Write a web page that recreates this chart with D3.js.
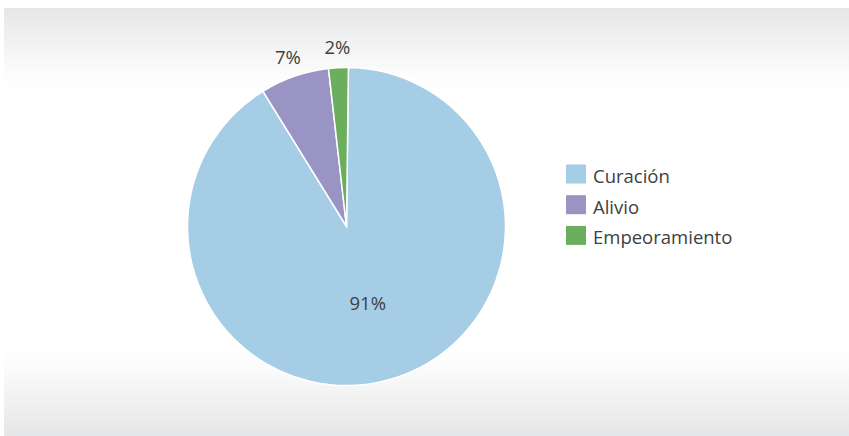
<!DOCTYPE html>
<html>
<head>
<meta charset="utf-8">
<script src="https://cdn.jsdelivr.net/npm/d3@7"></script>
<style>
  body { margin: 0; background: #fff; }
  svg { display: block; font-family: "Open Sans", "Noto Sans", sans-serif; }
</style>
</head>
<body>
<svg id="chart"></svg>
<script>
const categories = ["Curación", "Alivio", "Empeoramiento"];
const values = [91, 7, 2];
const colors = ["#a6cde6", "#9994c4", "#6aae5e"];

const WIDTH = 849;
const HEIGHT = 436;

let svg = d3.select("#chart")
  .attr("width", WIDTH)
  .attr("height", HEIGHT);

// background panel with gray fades top and bottom
let defs = svg.append("defs");
let grad = defs.append("linearGradient")
  .attr("id", "bg")
  .attr("x1", "0%").attr("x2", "0%").attr("y1", "0%").attr("y2", "100%");
[[0, "#e5e6e7"], [0.16, "#fdfdfd"], [0.2, "#ffffff"], [0.8, "#ffffff"], [0.84, "#fbfbfb"], [1, "#e5e6e7"]]
  .forEach(s => grad.append("stop").attr("offset", s[0]).attr("stop-color", s[1]));

svg.append("rect")
  .attr("x", 4)
  .attr("y", 8)
  .attr("width", WIDTH - 4)
  .attr("height", HEIGHT - 8)
  .style("fill", "url(#bg)");

let cx = 346.5, cy = 226.5, radius = 159;

let pie = d3.pie().sort(null).value(d => d.value)
  .startAngle(0.012).endAngle(2 * Math.PI + 0.012);
let data = categories.map((c, i) => ({ name: c, value: values[i], color: colors[i] }));
let arcs = pie(data);

let arc = d3.arc().innerRadius(0).outerRadius(radius);
let inner = d3.arc().innerRadius(radius * 0.5).outerRadius(radius * 0.5);
let outer = d3.arc().innerRadius(radius + 20).outerRadius(radius + 20);

let g = svg.append("g").attr("transform", "translate(" + cx + "," + cy + ")");

g.selectAll(".slice")
  .data(arcs)
  .enter().append("path")
  .attr("class", "slice")
  .attr("d", arc)
  .style("fill", d => d.data.color)
  .style("stroke", "#fff")
  .style("stroke-width", 1.5);

let total = d3.sum(values);
g.selectAll(".lbl")
  .data(arcs)
  .enter().append("text")
  .attr("class", "lbl")
  .attr("transform", d => {
    let p = (d.data.value / total > 0.5 ? inner : outer).centroid(d);
    return "translate(" + p + ")";
  })
  .attr("text-anchor", "middle")
  .attr("dy", "0.35em")
  .style("font-size", "18.5px")
  .style("fill", "#404040")
  .text(d => Math.round(d.data.value / total * 100) + "%");

// legend
let legend = svg.append("g").attr("transform", "translate(566,164.5)");
let item = legend.selectAll(".item")
  .data(data)
  .enter().append("g")
  .attr("class", "item")
  .attr("transform", (d, i) => "translate(0," + i * 30.7 + ")");

item.append("rect")
  .attr("width", 20)
  .attr("height", 19)
  .style("fill", d => d.color);

item.append("text")
  .attr("x", 27)
  .attr("y", 12)
  .attr("dy", "0.35em")
  .style("font-size", "18.5px")
  .style("fill", "#404040")
  .text(d => d.name);
</script>
</body>
</html>
